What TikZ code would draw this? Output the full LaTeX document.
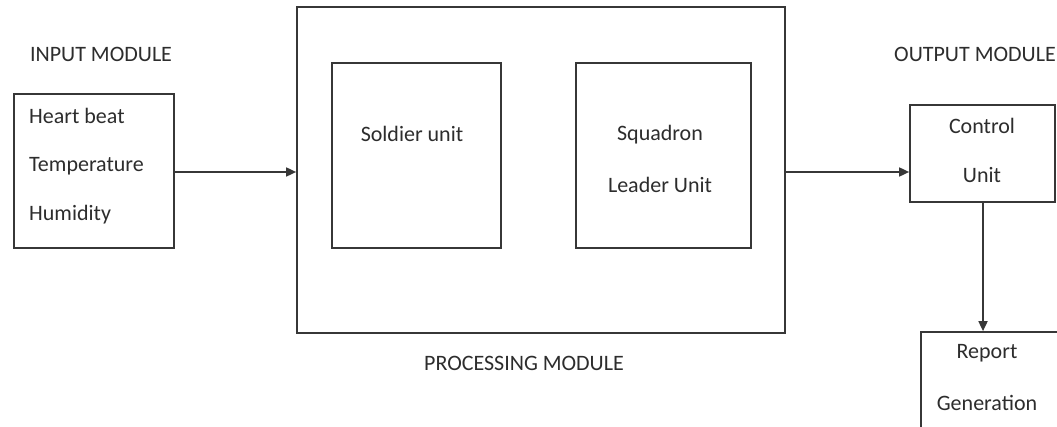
\documentclass[tikz,border=0pt]{standalone}
\usepackage{fontspec}
\setmainfont{Carlito}
\usetikzlibrary{arrows.meta}
\definecolor{linegray}{RGB}{55,55,55}
\definecolor{textgray}{RGB}{45,45,45}
\begin{document}
\begin{tikzpicture}[x=1pt,y=-1pt,
  box/.style={draw=linegray,line width=1.7pt,rectangle,inner sep=0pt},
  lbl/.style={text=textgray,font=\fontsize{22}{24}\selectfont,inner sep=0pt},
  conn/.style={draw=linegray,line width=1.7pt,-{Triangle[length=10pt,width=9pt]}}]
\useasboundingbox (0,0) rectangle (1057,427);
\fill[white] (0,0) rectangle (1057,427);
% input module
\node[lbl] (inlbl) at (101,54) {INPUT MODULE};
\node[box,minimum width=160pt,minimum height=154pt] (in) at (94,171) {};
\node[lbl,anchor=west] (hb) at (29,116) {Heart beat};
\node[lbl,anchor=west] (tp) at (29,166) {Temperature};
\node[lbl,anchor=west] (hu) at (29,215) {Humidity};
% processing module
\node[box,minimum width=488pt,minimum height=326pt] (proc) at (541,170) {};
\node[box,minimum width=169pt,minimum height=185pt] (sold) at (416.5,155.5) {};
\node[box,minimum width=175pt,minimum height=185pt] (squad) at (663.5,155.5) {};
\node[lbl] (soldt) at (412,134) {Soldier unit};
\node[lbl] (sq1) at (660,135) {Squadron};
\node[lbl] (sq2) at (660,185) {Leader Unit};
\node[lbl] (proclbl) at (524,363) {PROCESSING MODULE};
% output module
\node[lbl] (outlbl) at (975,54) {OUTPUT MODULE};
\node[box,minimum width=145pt,minimum height=97pt] (ctrl) at (982.5,153.5) {};
\node[lbl] (c1) at (982,126) {Control};
\node[lbl] (c2) at (982,175) {Unit};
\node[box,minimum width=160pt,minimum height=140pt] (rep) at (1001,402) {};
\node[lbl] (r1) at (987,353) {Report};
\node[lbl] (r2) at (987,403) {Generation};
% connectors
\draw[conn] (in.east |- 0,172) -- (proc.west |- 0,172);
\draw[conn] (proc.east |- 0,172) -- (ctrl.west |- 0,172);
\draw[conn] (ctrl.south -| 983,0) -- (rep.north -| 983,0);
\end{tikzpicture}
\end{document}
